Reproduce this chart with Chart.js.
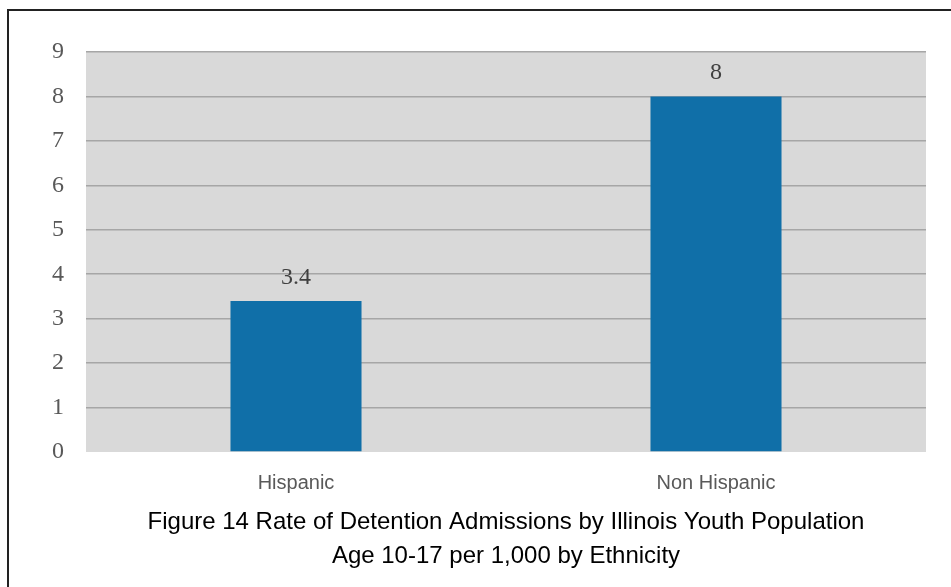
<!DOCTYPE html>
<html>
<head>
<meta charset="utf-8">
<title>Detention Admissions by Ethnicity</title>
<script src="https://cdn.jsdelivr.net/npm/chart.js@4.4.1/dist/chart.umd.min.js"></script>
<style>
  html, body { margin: 0; padding: 0; background: #ffffff; }
  #wrap { position: relative; width: 951px; height: 587px; }
  #frame {
    position: absolute; left: 7px; top: 9px; right: 0; bottom: 0;
    border-left: 2px solid #222222; border-top: 2px solid #222222;
    pointer-events: none;
  }
</style>
</head>
<body>
<div id="wrap">
  <canvas id="rateChart" width="951" height="587"></canvas>
  <div id="frame"></div>
</div>
<script>
// Admissions per 1,000 youth aged 10-17
const categories = ['Hispanic', 'Non Hispanic'];
const rates = [3.4, 8];
const yTicks = [0, 1, 2, 3, 4, 5, 6, 7, 8, 9];
const titleLines = [
    'Figure 14 Rate of Detention Admissions by Illinois Youth Population',
    'Age 10-17 per 1,000 by Ethnicity'
];

const serif = "'Liberation Serif', 'Times New Roman', serif";
const sans = "'Liberation Sans', Arial, sans-serif";

// grey plot background
const plotBackground = {
    id: 'plotBackground',
    beforeDraw(chart) {
        const { ctx, chartArea: a } = chart;
        ctx.save();
        ctx.fillStyle = '#d9d9d9';
        ctx.fillRect(a.left, a.top, a.right - a.left, a.bottom - a.top);
        ctx.restore();
    }
};

// value printed above each bar
const barValues = {
    id: 'barValues',
    afterDatasetsDraw(chart) {
        const { ctx } = chart;
        ctx.save();
        ctx.font = '24px ' + serif;
        ctx.fillStyle = '#404040';
        ctx.textAlign = 'center';
        ctx.textBaseline = 'alphabetic';
        chart.getDatasetMeta(0).data.forEach((bar, i) => {
            ctx.fillText(String(rates[i]), bar.x, bar.y - 17);
        });
        ctx.restore();
    }
};

new Chart(document.getElementById('rateChart'), {
    type: 'bar',
    data: {
        labels: categories,
        datasets: [{
            data: rates,
            backgroundColor: '#106fa8',
            borderWidth: 0,
            categoryPercentage: 1,
            barPercentage: 0.312
        }]
    },
    options: {
        responsive: false,
        animation: false,
        layout: { padding: { left: 0, right: 25, top: 52, bottom: 14 } },
        plugins: {
            legend: { display: false },
            tooltip: { enabled: false },
            title: {
                display: true,
                position: 'bottom',
                fullSize: false, // centre under the plot area
                text: titleLines,
                color: '#000000',
                font: { family: sans, size: 24, weight: 'normal', lineHeight: '34px' },
                padding: { top: 0, bottom: 0 }
            }
        },
        scales: {
            x: {
                grid: { display: false, drawTicks: false },
                border: { display: false },
                ticks: {
                    color: '#595959',
                    font: { family: sans, size: 20 },
                    padding: 19
                },
                afterFit(scale) { scale.height = 53; }
            },
            y: {
                min: 0,
                max: 9,
                afterBuildTicks(scale) { scale.ticks = yTicks.map(v => ({ value: v })); },
                grid: {
                    drawTicks: false,
                    lineWidth: 1.5,
                    color: ctx => (ctx.tick && ctx.tick.value === 0) ? 'rgba(0,0,0,0)' : '#a6a6a6'
                },
                border: { display: false },
                ticks: {
                    color: '#595959',
                    font: { family: serif, size: 24 },
                    padding: 22
                },
                afterFit(scale) { scale.width = 86; }
            }
        }
    },
    plugins: [plotBackground, barValues]
});
</script>
</body>
</html>
